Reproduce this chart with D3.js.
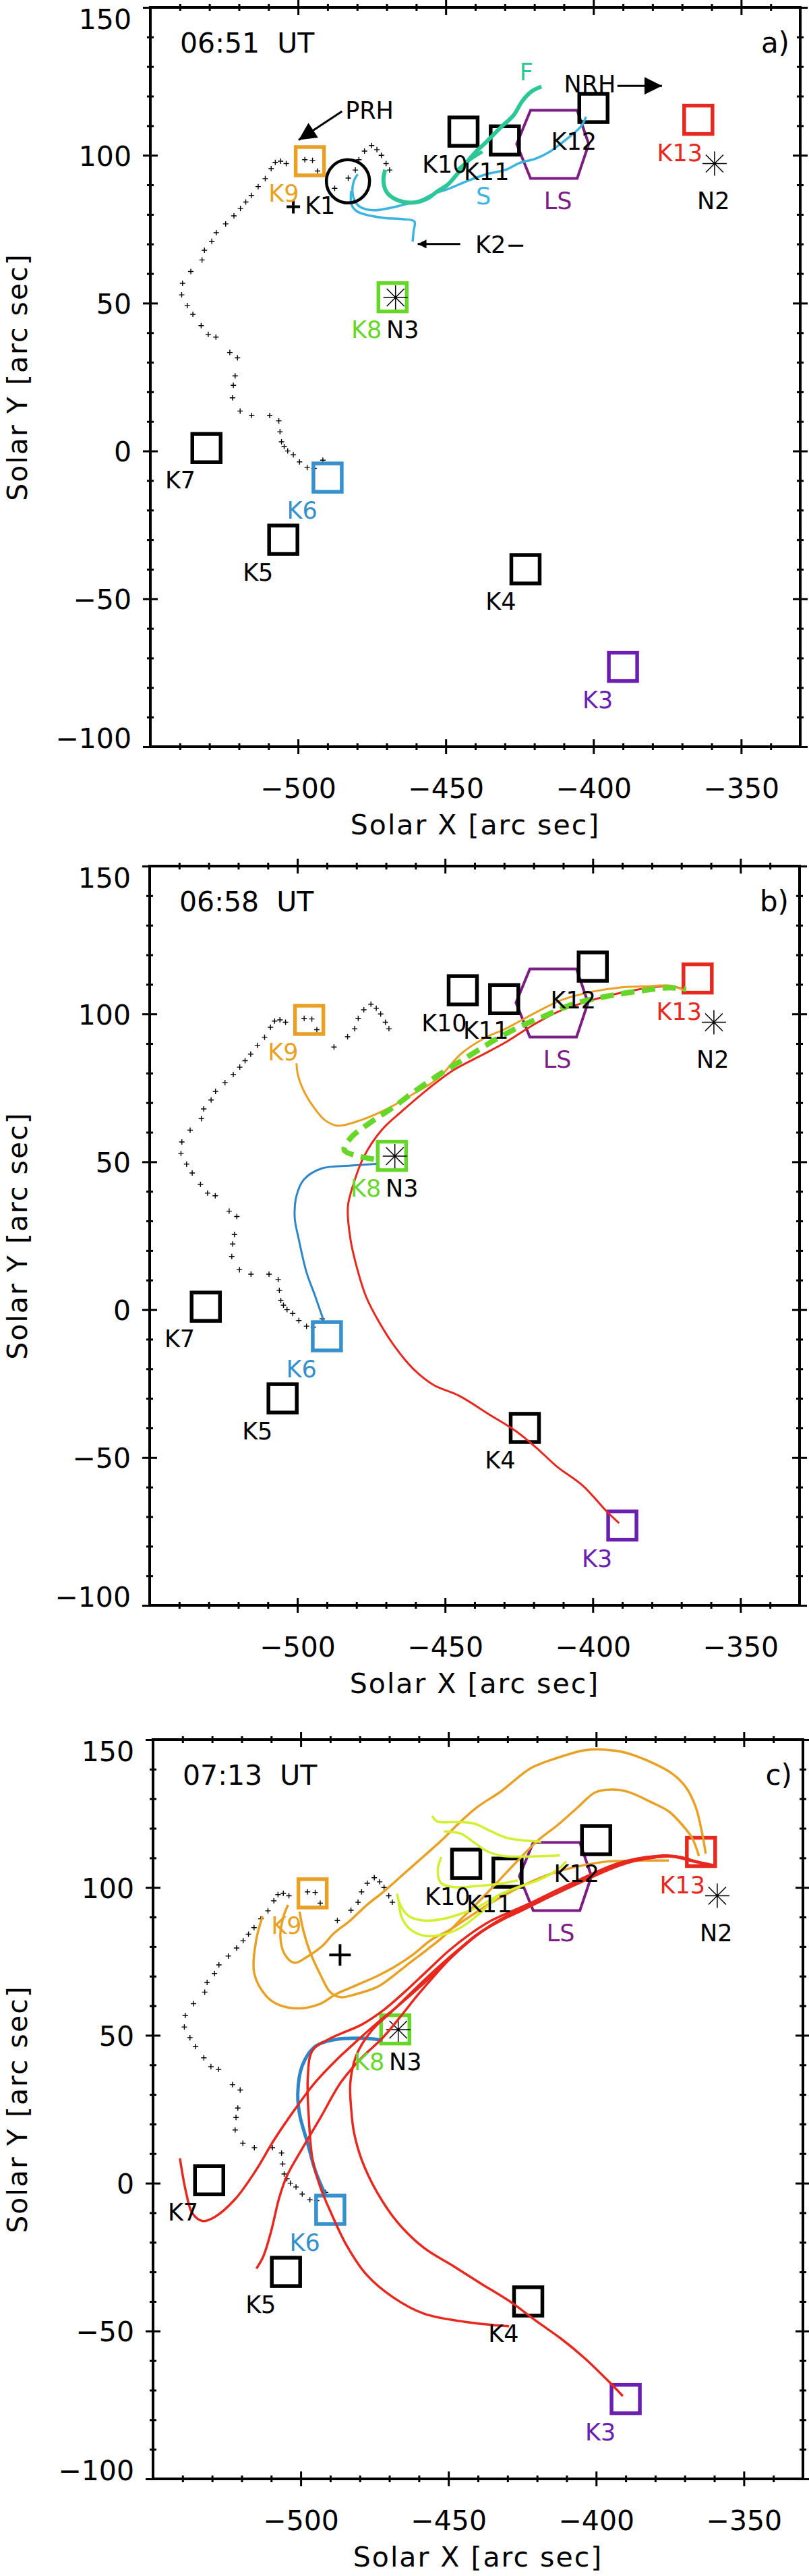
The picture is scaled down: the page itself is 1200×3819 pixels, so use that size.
<!DOCTYPE html>
<html>
<head>
<meta charset="utf-8">
<script src="https://d3js.org/d3.v7.min.js"></script>
<style>
    body { margin: 0; background: #ffffff; }
    text { font-family: "DejaVu Sans", sans-serif; }
</style>
</head>
<body>
<div id="chart"></div>
<script>

    // ---- axes / panels ----
    const xTicks = [-500, -450, -400, -350];
    const yTicks = [-100, -50, 0, 50, 100, 150];
    const panelTimes = ["06:51  UT", "06:58  UT", "07:13  UT"];
    const panelTags = ["a)", "b)", "c)"];
    const panelLeft = [223, 222, 227];
    const panelTop = [11, 1284, 2579];

    // ---- kernels (squares) ----
    const kName = ["K3", "K4", "K5", "K6", "K7", "K8", "K9", "K10", "K11", "K12", "K13"];
    const kX = [-390, -423, -505, -490, -531, -468, -496, -444, -430, -400, -364.5];
    const kY = [-73, -40, -30, -9, 1, 52, 98, 108, 105, 116, 112];

    // ---- text labels shared by all panels ----
    const labText = ["K13", "N2", "K12", "K10", "K11", "K9", "LS", "K8", "N3", "K7", "K6", "K5", "K4", "K3"];
    const labX = [-378.5, -364.9, -414.3, -458, -443.9, -510, -416.8, -482, -470.1, -545, -503.8, -518.7, -436.5, -403.7];
    const labY = [98.1, 81.9, 101.8, 94.2, 91.5, 84.4, 81.9, 38.3, 38.3, -12.6, -22.8, -43.9, -53.7, -87];

    // ---- NRH sources (asterisks) ----
    const nX = [-359, -467];
    const nY = [97.2, 51.9];

    // ---- LS hexagon ----
    const hexX = [-426, -421.3, -405.5, -401.6, -405.5, -421.3];
    const hexY = [103.8, 115.2, 115.2, 103.8, 92.2, 92.2];

    // ---- neutral line (small crosses) ----
    const pil = [[-491.6,-3.1],[-494.6,-5.9],[-496.9,-5.6],[-499.5,-3.7],[-501.6,-1.3],[-503.5,0.0],[-504.7,1.5],
        [-505.6,3.1],[-506.1,6.5],[-506.5,10.2],[-509.6,12.0],[-515.7,12.0],[-519.6,13.5],[-522.2,18.0],[-521.9,22.2],
        [-521.3,25.4],[-520.5,31.5],[-523.1,33.3],[-527.8,38.5],[-530.4,39.4],[-532.8,42.4],[-535.6,46.2],[-537.5,49.2],
        [-539.4,52.8],[-539.1,56.7],[-536.3,60.7],[-532.5,64.6],[-531.7,67.9],[-529.2,70.9],[-527.7,73.8],[-524.5,76.8],
        [-521.7,79.5],[-519.5,82.0],[-517.7,84.2],[-515.8,86.4],[-513.5,89.4],[-511.1,92.1],[-509.1,95.5],[-507.7,97.6],
        [-505.9,98.0],[-504.0,97.2],[-497.7,98.5],[-495.1,98.3],[-493.4,94.7],[-487.6,88.8],[-483.0,92.3],[-480.6,95.0],
        [-479.4,98.5],[-477.5,101.4],[-475.1,103.3],[-473.3,101.9],[-471.8,100.0],[-470.2,97.2],[-469.0,95.0]];

    // ---- panel a: ribbons S and F, annotations ----
    const aS1 = [[-479.8,93.6],[-481.1,91.3],[-481.6,87.9],[-480.9,84.8],[-479.1,82.6],[-474.4,81.4],[-468.8,82.2],
        [-464.2,83.3],[-458.6,84.8],[-453.9,87.1],[-449.2,88.6],[-443.7,90.9],[-436.2,93.6],[-429.7,95.1],[-425.0,97.4],
        [-419.5,98.9],[-414.8,101.2],[-411.1,103.9],[-407.3,106.9],[-404.1,109.9],[-402.5,113]];
    const aS2 = [[-482.0,88.0],[-481.9,83.3],[-480.0,81.0],[-475.3,79.5],[-470.7,78.8],[-464.2,78.4],[-460.6,77.6],
        [-460.9,74.2],[-461.2,70.8]];
    const aF1 = [[-470.5,95.1],[-471.1,91.7],[-470.2,87.9],[-467.9,85.6],[-464.2,84.2],[-459.5,84.2],[-455.8,85.6],
        [-453.0,87.7],[-449.2,90.2],[-446.5,93.2],[-443.7,96.6],[-440.9,100.0],[-436.2,104.6],[-431.6,109.2],
        [-426.9,113.7],[-424.1,118.3],[-420.8,121.7],[-417.6,123.2]];
    const aF2 = [[-446.0,95.1],[-441.8,98.5],[-437.6,101.2]];
    const annText = ["PRH", "NRH", "K2\u2212", "S", "F", "K1"];
    const annX = [-484, -410, -440, -439.8, -425, -497.7];
    const annY = [112.3, 121.3, 67.0, 83.3, 125.3, 80.3];
    const arrows = [[-485.1,114.9,-499.8,105.2],[-391.9,123.5,-376.8,123.5],[-445.1,70.0,-459.5,70.0]];
    const k1Pos = [-501.6, 82.6];
    const ringPos = [-483.1, 91.2];

    // ---- panel b loops ----
    const bOrange = [[-500.3,83.3],[-499.8,79.3],[-497.7,73.7],[-494.2,68.1],[-490.7,64.1],[-486.4,62.2],[-478.5,64.1],
        [-469.8,67.8],[-461.0,72.8],[-452.3,78.3],[-444.4,86.7],[-436.5,91.9],[-429.5,95.0],[-419.1,100.6],
        [-410.3,104.8],[-399.8,107.6],[-391.1,108.9],[-380.6,109.4],[-373.6,109.6],[-369.2,108.0]];
    const bRed = [[-391.1,-72.2],[-395.5,-68.0],[-403.3,-59.6],[-412.1,-53.1],[-419.1,-46.7],[-426.0,-41.1],
        [-434.8,-35.6],[-445.3,-29.1],[-454.0,-25.4],[-461.0,-19.8],[-467.1,-12.4],[-472.4,-4.1],[-476.7,4.3],
        [-479.4,12.6],[-482.0,23.7],[-482.9,34.8],[-481.1,42.2],[-477.6,51.5],[-471.5,60.7],[-464.5,67.2],
        [-455.8,74.6],[-447.0,81.1],[-438.3,85.7],[-429.5,90.4],[-420.8,95.9],[-412.1,100.6],[-399.8,104.8],
        [-391.1,107.0],[-380.6,108.9],[-373.6,109.4],[-368.4,108.0]];
    const bBlue = [[-491.1,-3.7],[-494.2,5.2],[-496.9,12.6],[-499.5,23.7],[-500.9,31.1],[-500.3,38.5],[-497.7,44.1],
        [-491.6,47.8],[-482.0,48.7],[-473.3,49.3]];
    const bGreen = [[-474.1,50.9],[-484.1,53.9],[-482.0,58.0],[-475.0,63.5],[-468.0,68.1],[-461.0,73.3],[-452.3,79.3],
        [-443.5,84.8],[-433.0,91.3],[-424.3,95.9],[-415.6,99.6],[-406.8,103.3],[-394.6,106.1],[-382.3,108.0],
        [-373.6,108.9],[-368.4,108.3]];

    // ---- panel c loops ----
    const cOrangeA = [[-504.3,94.1],[-506.0,89.6],[-506.9,83.5],[-505.5,77.5],[-502.1,74.5],[-498.1,76.4],[-492.4,80.5],
        [-489.0,84.3],[-483.3,88.8],[-477.6,94.1],[-471.9,98.6],[-465.1,104.6],[-458.3,110.6],[-451.5,116.7],
        [-447.0,121.2],[-440.2,127.2],[-432.2,132.5],[-422.0,140.4],[-412.9,143.9],[-403.8,146.4],[-397.0,146.6],
        [-390.2,145.6],[-381.1,142.2],[-374.3,138.5],[-369.7,134.0],[-366.3,127.2],[-364.1,118.2],[-362.9,111.4]];
    const cOrangeB = [[-500.4,91.8],[-499.2,85.8],[-496.9,78.3],[-493.5,70.8],[-490.1,64.7],[-486.7,62.9],[-481.0,64.0],
        [-474.2,66.3],[-469.7,69.3],[-464.0,73.8],[-457.2,79.0],[-451.5,83.6],[-444.7,90.3],[-437.9,97.1],
        [-432.2,103.1],[-426.5,109.1],[-419.7,115.9],[-412.9,121.2],[-406.1,127.2],[-400.4,132.1],[-394.7,133.1],
        [-389.1,132.3],[-381.1,128.7],[-375.4,125.7],[-370.9,121.2],[-367.5,116.7],[-365.2,110.6]];
    const cOrangeC = [[-512.9,90.3],[-515.1,82.1],[-515.7,70.8],[-511.7,63.3],[-507.2,60.2],[-500.4,59.1],[-493.5,60.6],
        [-487.9,64.0],[-481.0,67.0],[-474.2,70.0],[-468.5,73.0],[-461.7,77.5],[-456.1,82.1],[-449.3,85.8],
        [-443.6,89.6],[-435.6,94.8],[-428.8,98.6],[-420.9,102.4],[-412.9,105.4],[-403.8,107.6],[-395.9,108.8],
        [-384.5,109.1],[-375.4,109.1]];
    const cYellow1 = [[-455.5,124.2],[-453.8,122.3],[-447.0,122.1],[-441.3,121.6],[-435.6,119.0],[-430.0,116.7],[-418.6,115.5]];
    const cYellow2 = [[-451.5,119.0],[-445.8,118.2],[-441.3,115.2],[-436.8,112.2],[-431.1,110.6],[-422.0,110.5],[-412.3,110.8]];
    const cYellow3 = [[-452.4,110.3],[-453.6,106.1],[-452.6,101.6],[-448.1,100.1],[-440.2,100.5],[-432.2,101.3],[-426.5,102.4]];
    const cYellow4 = [[-467.4,97.9],[-466.3,94.1],[-463.4,90.3],[-458.3,88.8],[-452.6,89.2],[-447.0,90.7],[-440.2,93.3],
        [-432.2,97.8],[-426.5,100.1],[-419.7,102.4],[-414.0,105.4],[-410.1,108.8]];
    const cYellow5 = [[-466.9,95.6],[-465.7,89.6],[-462.9,85.8],[-458.3,83.7],[-452.6,83.9],[-447.0,85.8],[-442.4,88.8],
        [-437.9,92.6],[-433.3,97.1]];
    const cRedK3 = [[-391.0,-72.0],[-395.4,-67.4],[-404.1,-59.0],[-412.0,-52.5],[-419.9,-46.9],[-428.6,-40.4],
        [-439.1,-33.9],[-447.9,-28.3],[-458.4,-21.8],[-467.1,-13.4],[-474.1,-3.2],[-479.4,8.0],[-482.0,17.3],
        [-482.9,24.8],[-483.2,34.1],[-481.1,43.4],[-475.9,51.7],[-468.9,58.3],[-461.5,65.5],[-453.5,73.0],
        [-446,79.5],[-438,85.5],[-430,90.0],[-422.5,93.8],[-415.5,97.2],[-408.5,100.6],[-401.5,103.8],
        [-394.5,106.8],[-387,109.0],[-380,110.2],[-374,110.4],[-367.5,108.9],[-361,107.4]];
    const cRedK4 = [[-429.5,-48.4],[-444.4,-46.9],[-458.4,-44.1],[-468.9,-38.5],[-477.6,-31.1],[-484.6,-20.8],
        [-489.9,-9.7],[-493.4,-1.3],[-496.0,8.0],[-497.2,21.0],[-497.6,35.9],[-496.0,44.9],[-489.9,49.0],
        [-479.4,53.6],[-472,58.5],[-465,64.5],[-457.5,71.5],[-450,78.5],[-443,84.0],[-435.5,88.8],[-428,92.2],
        [-421,95.3],[-414.5,98.5],[-407.5,101.8],[-400.5,105.0],[-393.5,107.9],[-386,109.8],[-379.5,110.6],
        [-373.5,110.6],[-367,109.0],[-360.5,107.6]];
    const cRedK5 = [[-515.0,-28.9],[-512.6,-24.6],[-510.0,-16.2],[-507.3,-5.0],[-504.7,2.4],[-499.5,11.7],[-493.4,22.0],
        [-486.4,34.1],[-479.4,42.4],[-472.4,49.0],[-466.5,56.0],[-460.5,63.5],[-454,71.0],[-447.5,78.0],
        [-440.5,84.0],[-433,88.5],[-425.5,92.0],[-418.5,95.5],[-411.5,99.0],[-404.5,102.5],[-397.5,105.8],
        [-390.5,108.5],[-383.5,110.0],[-377,110.8],[-371,110.2],[-365.5,108.5],[-360.5,107.2]];
    const cRedK7 = [[-540.9,8.4],[-538.8,-3.2],[-536.7,-10.2],[-533.2,-12.8],[-529.2,-11.5],[-522.2,-5.4],[-515.2,4.3],
        [-509.1,14.5],[-502.1,24.8],[-495.1,34.1],[-488.1,41.5],[-481.1,48.0],[-474.1,54.2],[-467,60.0],
        [-459.5,66.5],[-452,73.5],[-445,80.0],[-437.5,86.0],[-430,90.5],[-423,93.8],[-416,96.8],[-409,100.0],
        [-402,103.2],[-395,106.3],[-388,108.7],[-381,110.0],[-375,110.5],[-368.5,109.3],[-362,107.8]];
    const cBlue = [[-472.4,48.4],[-479.4,49.0],[-488.1,48.6],[-495.1,46.2],[-499.5,39.7],[-501.0,30.3],[-500.3,22.9],
        [-497.7,13.6],[-495.1,4.3],[-491.6,-4.1]];
    const cPlus = [-486.7, 77.2];

    // ---- colours ----
    const ORANGE = "#e9a125", RED = "#e6281e", BLUE = "#3590cc", CYAN = "#3bb5de", TEAL = "#2dc797",
          GREEN = "#66d628", PURPLE = "#7b1d82", VIOLET = "#6b1fb1", YELLOW = "#d2ef32";
    const colorOf = {K3: VIOLET, K6: BLUE, K8: GREEN, K9: ORANGE, K13: RED, LS: PURPLE};

    const panelCurves = [
        [
            {pts: aS2, c: CYAN, w: 3.5},
            {pts: aS1, c: CYAN, w: 3.5},
            {pts: aF1, c: TEAL, w: 6},
            {pts: aF2, c: TEAL, w: 5}
        ],
        [
            {pts: bBlue, c: "#2e86c9", w: 3},
            {pts: bRed, c: RED, w: 3},
            {pts: bOrange, c: ORANGE, w: 3},
            {pts: bGreen, c: GREEN, w: 8, dash: "20,11"}
        ],
        [
            {pts: cOrangeA, c: ORANGE, w: 3.5},
            {pts: cOrangeB, c: ORANGE, w: 3.5},
            {pts: cOrangeC, c: ORANGE, w: 3.5},
            {pts: cYellow1, c: YELLOW, w: 3.5},
            {pts: cYellow2, c: YELLOW, w: 3.5},
            {pts: cYellow3, c: YELLOW, w: 3.5},
            {pts: cYellow4, c: YELLOW, w: 3.5},
            {pts: cYellow5, c: YELLOW, w: 3.5},
            {pts: cBlue, c: "#2e86c9", w: 5},
            {pts: cRedK3, c: RED, w: 3.5},
            {pts: cRedK4, c: RED, w: 3.5},
            {pts: cRedK5, c: RED, w: 3.5},
            {pts: cRedK7, c: RED, w: 3.5}
        ]
    ];

    // set the dimensions of each panel
    const W = 964, H = 1096;
    const x = d3.scaleLinear().domain([-550, -330]).range([0, W]);
    const y = d3.scaleLinear().domain([-100, 150]).range([H, 0]);
    const line = d3.line()
        .x(d => x(d[0]))
        .y(d => y(d[1]))
        .curve(d3.curveCatmullRom.alpha(0.5));

    const svg = d3.select("#chart")
        .append("svg")
        .attr("width", 1200)
        .attr("height", 3819);

    // arrow heads
    const defs = svg.append("defs");
    defs.append("marker")
        .attr("id", "headBig")
        .attr("viewBox", "0 0 10 10")
        .attr("refX", 10).attr("refY", 5)
        .attr("markerUnits", "userSpaceOnUse")
        .attr("markerWidth", 30).attr("markerHeight", 26)
        .attr("orient", "auto")
        .append("path").attr("d", "M0,0L10,5L0,10z").attr("fill", "#000");
    defs.append("marker")
        .attr("id", "headSmall")
        .attr("viewBox", "0 0 10 10")
        .attr("refX", 10).attr("refY", 5)
        .attr("markerUnits", "userSpaceOnUse")
        .attr("markerWidth", 13).attr("markerHeight", 13)
        .attr("orient", "auto")
        .append("path").attr("d", "M0,0L10,5L0,10z").attr("fill", "#000");

    // ticks that cross the frame line (two axes, one each side)
    function tickPair(g, scale, axA, axB, transform, vals, len) {
        [axA, axB].forEach(ax => {
            g.append("g")
                .attr("transform", transform)
                .call(ax(scale).tickValues(vals).tickSize(len).tickFormat(""))
                .call(s => s.select(".domain").remove())
                .selectAll("line")
                .attr("stroke", "#000")
                .attr("stroke-width", 3);
        });
    }

    function drawPanel(i) {
        const g = svg.append("g").attr("transform", `translate(${panelLeft[i]},${panelTop[i]})`);

        const xMinor = d3.range(-540, -330, 10).filter(v => !xTicks.includes(v));
        const yMinor = d3.range(-90, 150, 10).filter(v => !yTicks.includes(v));

        tickPair(g, x, d3.axisBottom, d3.axisTop, `translate(0,${H})`, xMinor, 5);
        tickPair(g, x, d3.axisBottom, d3.axisTop, `translate(0,${H})`, xTicks, 11);
        tickPair(g, x, d3.axisBottom, d3.axisTop, "translate(0,0)", xMinor, 5);
        tickPair(g, x, d3.axisBottom, d3.axisTop, "translate(0,0)", xTicks, 11);
        tickPair(g, y, d3.axisLeft, d3.axisRight, "translate(0,0)", yMinor, 5);
        tickPair(g, y, d3.axisLeft, d3.axisRight, "translate(0,0)", yTicks, 11);
        tickPair(g, y, d3.axisLeft, d3.axisRight, `translate(${W},0)`, yMinor, 5);
        tickPair(g, y, d3.axisLeft, d3.axisRight, `translate(${W},0)`, yTicks, 11);

        // tick labels
        g.append("g")
            .attr("transform", `translate(0,${H})`)
            .call(d3.axisBottom(x).tickValues(xTicks).tickSize(0).tickFormat(d3.format("d")))
            .call(s => s.select(".domain").remove())
            .selectAll("text")
            .attr("y", 76).attr("dy", null)
            .attr("fill", "#000")
            .style("font-size", "41px");

        g.append("g")
            .call(d3.axisLeft(y).tickValues(yTicks).tickSize(0).tickPadding(28).tickFormat(d3.format("d")))
            .call(s => s.select(".domain").remove())
            .selectAll("text")
            .attr("dy", d => d === 150 ? 31 : (d === -100 ? 1 : 15))
            .attr("fill", "#000")
            .style("font-size", "41px");

        // axis titles
        g.append("text")
            .attr("x", W / 2)
            .attr("y", H + 130)
            .attr("text-anchor", "middle")
            .style("font-size", "41px")
            .style("letter-spacing", "2px")
            .text("Solar X [arc sec]");
        g.append("text")
            .attr("transform", `translate(${40 - panelLeft[i]},${H / 2}) rotate(-90)`)
            .attr("text-anchor", "middle")
            .style("font-size", "41px")
            .style("letter-spacing", "2px")
            .text("Solar Y [arc sec]");

        // neutral line crosses
        g.selectAll("path.pil")
            .data(pil)
            .join("path")
            .attr("class", "pil")
            .attr("d", "M-4,0H4M0,-4V4")
            .attr("transform", d => `translate(${x(d[0])},${y(d[1])})`)
            .attr("stroke", "#000")
            .attr("stroke-width", 1.4);

        // LS hexagon
        g.append("path")
            .attr("d", "M" + hexX.map((v, j) => `${x(v)},${y(hexY[j])}`).join("L") + "Z")
            .attr("fill", "none")
            .attr("stroke", PURPLE)
            .attr("stroke-width", 4);

        // kernels
        g.selectAll("rect.kern")
            .data(kName)
            .join("rect")
            .attr("class", "kern")
            .attr("x", (d, j) => x(kX[j]) - 21)
            .attr("y", (d, j) => y(kY[j]) - 21)
            .attr("width", 42)
            .attr("height", 42)
            .attr("fill", "none")
            .attr("stroke", d => colorOf[d] || "#000")
            .attr("stroke-width", 5.5);

        // asterisks N2 / N3
        g.selectAll("path.star")
            .data(nX)
            .join("path")
            .attr("class", "star")
            .attr("d", "M-18,0H18M0,-18V18M-13,-13L13,13M-13,13L13,-13")
            .attr("transform", (d, j) => `translate(${x(d)},${y(nY[j])})`)
            .attr("stroke", "#000")
            .attr("stroke-width", 1.5);

        // loops / ribbons
        panelCurves[i].forEach(cv => {
            g.append("path")
                .attr("d", line(cv.pts))
                .attr("fill", "none")
                .attr("stroke", cv.c)
                .attr("stroke-width", cv.w)
                .attr("stroke-dasharray", cv.dash || null)
                .attr("stroke-linejoin", "round");
        });

        if (i === 0) {
            g.append("circle")
                .attr("cx", x(ringPos[0]))
                .attr("cy", y(ringPos[1]))
                .attr("r", 32)
                .attr("fill", "none")
                .attr("stroke", "#000")
                .attr("stroke-width", 4.5);
            g.append("path")
                .attr("d", "M-10,0H10M0,-10V10")
                .attr("transform", `translate(${x(k1Pos[0])},${y(k1Pos[1])})`)
                .attr("stroke", "#000")
                .attr("stroke-width", 4);
            g.selectAll("line.arr")
                .data(arrows)
                .join("line")
                .attr("class", "arr")
                .attr("x1", d => x(d[0])).attr("y1", d => y(d[1]))
                .attr("x2", d => x(d[2])).attr("y2", d => y(d[3]))
                .attr("stroke", "#000")
                .attr("stroke-width", 3)
                .attr("marker-end", (d, j) => j === 2 ? "url(#headSmall)" : "url(#headBig)");
            g.selectAll("text.ann")
                .data(annText)
                .join("text")
                .attr("class", "ann")
                .attr("x", (d, j) => x(annX[j]))
                .attr("y", (d, j) => y(annY[j]))
                .attr("fill", d => d === "S" ? CYAN : (d === "F" ? TEAL : "#000"))
                .style("font-size", "35px")
                .text(d => d);
        }

        if (i === 2) {
            g.append("path")
                .attr("d", "M-16,0H16M0,-16V16")
                .attr("transform", `translate(${x(cPlus[0])},${y(cPlus[1])})`)
                .attr("stroke", "#000")
                .attr("stroke-width", 4);
        }

        // kernel / source labels
        g.selectAll("text.lab")
            .data(labText)
            .join("text")
            .attr("class", "lab")
            .attr("x", (d, j) => x(labX[j]))
            .attr("y", (d, j) => y(labY[j]))
            .attr("fill", d => colorOf[d] || "#000")
            .style("font-size", "35px")
            .text(d => d);

        // time stamp and panel tag
        g.append("text")
            .attr("x", 44)
            .attr("y", 67)
            .style("font-size", "41px")
            .style("white-space", "pre")
            .text(panelTimes[i]);
        g.append("text")
            .attr("x", W - 16)
            .attr("y", 67)
            .attr("text-anchor", "end")
            .style("font-size", "42px")
            .text(panelTags[i]);

        // frame
        g.append("rect")
            .attr("width", W)
            .attr("height", H)
            .attr("fill", "none")
            .attr("stroke", "#000")
            .attr("stroke-width", 4);
    }

    [0, 1, 2].forEach(drawPanel);

</script>
</body>
</html>
